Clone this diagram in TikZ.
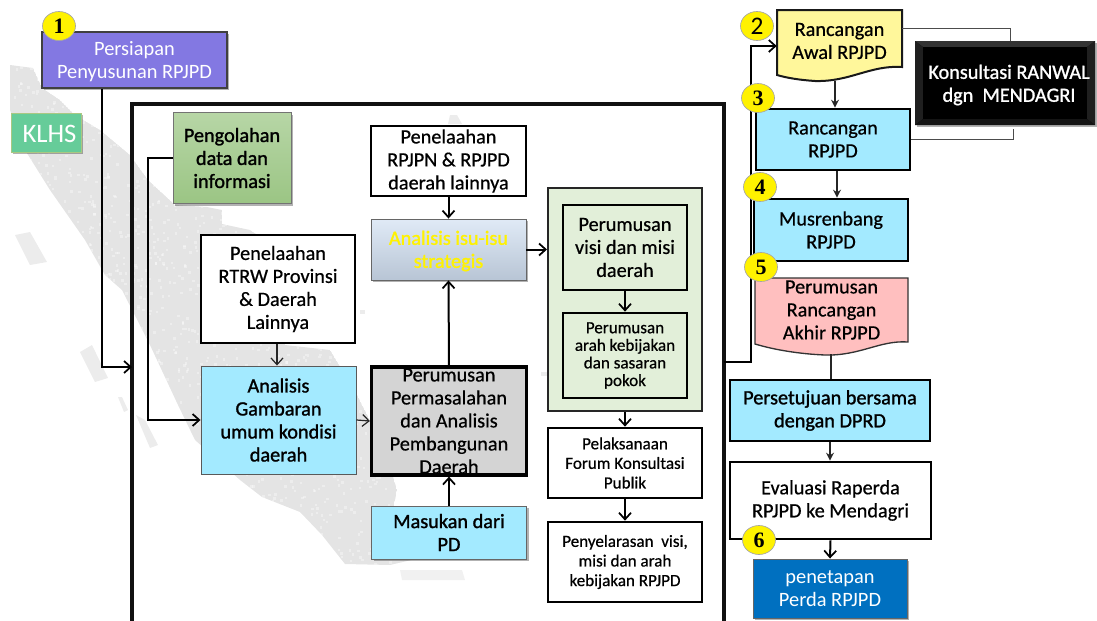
\documentclass[tikz,border=0pt]{standalone}
\usepackage{fontspec}
\setmainfont{Carlito}
\newfontfamily\medf[FakeBold=0.6]{Carlito}
\newfontfamily\hvyf[FakeBold=1.3]{Carlito}
\newfontfamily\serifbadge{Liberation Serif}
\usetikzlibrary{arrows.meta,shadows,calc,shapes.geometric}
\definecolor{cyanbox}{HTML}{A3EAFF}
\definecolor{mapgray}{HTML}{E4E4E4}
\definecolor{frameline}{HTML}{111111}
\def\u{0.75pt}
\newcommand{\fs}[2]{\fontsize{#1}{#2}\selectfont}
\tikzset{
  base/.style={align=center,inner sep=0pt,text=black,font=\medf\fs{15.2}{17.25}},
  heavy/.style={font=\hvyf\fs{15.2}{17.25}},
  bx/.style n args={2}{base,minimum width=#1*\u,minimum height=#2*\u},
  shad/.style={drop shadow={shadow xshift=1.5pt,shadow yshift=-1.5pt,fill=black,opacity=0.3}},
  badge/.style={ellipse,draw=black!35,line width=0.5pt,fill=yellow,minimum width=33*\u,minimum height=29*\u,inner sep=0pt,font=\fs{16.5}{16.5}},
  lnk/.style={line width=1.5pt,draw=black,-{Straight Barb[length=5pt,width=9pt,line width=1.3pt]}},
  lnkthin/.style={line width=0.9pt,draw=black!85,-{Straight Barb[length=5pt,width=9pt,line width=0.9pt]}},
  lnktri/.style={line width=1pt,draw=black!85,-{Stealth[length=6pt,width=6pt]}},
  plain/.style={line width=0.7pt,draw=black!70},
  plainb/.style={line width=1.1pt,draw=black!85},
}
\def\mappath{(10,65) -- (33,68) -- (42,88) -- (60,100) -- (75,115) -- (100,130) -- (130,155) -- (148,180) -- (175,205) -- (207,207) -- (222,210) -- (222,224) -- (250,230) -- (265,240) -- (285,345) -- (330,350) -- (357,395) -- (385,450) -- (397,490) -- (392,515) -- (400,545) -- (420,558) -- (390,565) -- (345,564) -- (322,535) -- (300,512) -- (262,497) -- (240,480) -- (195,440) -- (178,405) -- (150,345) -- (122,290) -- (105,275) -- (85,240) -- (50,190) -- (25,150) -- (10,110) -- cycle}
\begin{document}
\begin{tikzpicture}[x=0.75pt,y=-0.75pt]
\useasboundingbox (0,0) rectangle (1097,621);
% map
\begin{scope}
\clip \mappath;
\fill[mapgray] \mappath;
\pgfmathsetseed{42}
\foreach \i in {1,...,2600}{
  \pgfmathsetmacro{\mx}{10+410*rnd}
  \pgfmathsetmacro{\my}{65+500*rnd}
  \fill[white,opacity=0.35] (\mx,\my) rectangle ++(2.5,2.5);
}
\end{scope}
\fill[mapgray!70] (80,352) -- (92,345) -- (108,378) -- (95,382) -- cycle;
\fill[mapgray!70] (136,415) -- (145,420) -- (158,445) -- (150,448) -- cycle;
\fill[mapgray!70] (118,397) -- (122,397) -- (128,410) -- (124,412) -- cycle;
\fill[mapgray!70] (15,235) -- (30,232) -- (47,262) -- (30,265) -- cycle;
\fill[mapgray!70] (450,115) -- (457,115) -- (462,124) -- (448,124) -- cycle;
\fill[mapgray!70] (360,310) -- (365,310) -- (365,314) -- (360,314) -- cycle;
\fill[mapgray!70] (541,372) -- (547,372) -- (547,376) -- (541,376) -- cycle;
\fill[mapgray!50] (400,570) -- (462,570) -- (465,580) -- (402,580) -- cycle;
% outer frame
\draw[line width=3pt,frameline] (132,621) -- (132,103.5) -- (724,103.5) -- (724,621);
\coordinate (frameL) at (132,367);
\coordinate (frameR) at (724,362);
% left column
\node[bx={185}{56},shad,draw=black!75,line width=0.8pt,fill={rgb,255:red,131;green,120;blue,226}] (persiapan) at (134.5,60) {};
\node[base,text=white,font=\fs{15.3}{17.25}] (persiapanlabel) at (134.5,62) {Persiapan\\Penyusunan RPJPD};
\node[bx={70}{39},shad,draw={rgb,255:red,170;green,200;blue,130},line width=0.6pt,fill={rgb,255:red,102;green,204;blue,153}] (klhs) at (46,132.5) {};
\node[base,text=white,font=\fs{20}{20}] (klhslabel) at (49.5,133.5) {KLHS};
\node[bx={118}{91},shad,draw=black!55,line width=0.7pt,top color={rgb,255:red,183;green,214;blue,166},bottom color={rgb,255:red,155;green,197;blue,132},heavy] (olah) at (232,158) {Pengolahan\\data dan\\informasi};
\node[bx={154}{108},draw=black,line width=1.1pt,fill=white] (rtrw) at (278,289) {Penelaahan\\RTRW Provinsi\\\&~Daerah\\Lainnya};
\node[bx={155}{108},draw=black!65,line width=0.7pt,fill=cyanbox,heavy] (gambaran) at (278.5,420) {Analisis\\Gambaran\\umum kondisi\\daerah};
% middle column
\node[bx={155}{70},draw=black,line width=2pt,fill=white] (rpjpn) at (448.5,161) {Penelaahan\\RPJPN \& RPJPD\\daerah lainnya};
\node[bx={155}{61},shad,draw=black!60,line width=0.7pt,top color={rgb,255:red,224;green,234;blue,246},bottom color={rgb,255:red,184;green,197;blue,213}] (isu) at (448.5,249.5) {};
\node[base,text=yellow,heavy] (isulabel) at (448.5,251) {Analisis isu-isu\\strategis};
\node[bx={155}{108},draw=black,line width=2.4pt,fill={rgb,255:red,212;green,212;blue,212}] (masalah) at (449,421) {Perumusan\\Permasalahan\\dan Analisis\\Pembangunan\\Daerah};
\node[bx={155}{53},shad,draw=black!60,line width=0.7pt,fill=cyanbox,heavy] (masukan) at (449,532.5) {Masukan dari\\PD};
% right inner column
\node[bx={154}{223},draw=black!85,line width=1.5pt,fill={rgb,255:red,226;green,239;blue,217}] (hijau) at (625,299.5) {};
\node[bx={124}{85},draw=black,line width=2pt,fill={rgb,255:red,226;green,239;blue,217}] (visi) at (625,247.5) {Perumusan\\visi dan misi\\daerah};
\node[bx={124}{85},draw=black,line width=2pt,fill={rgb,255:red,226;green,239;blue,217},font=\medf\fs{12.8}{13.2}] (arah) at (625,355.5) {Perumusan\\arah kebijakan\\dan sasaran\\pokok};
\node[bx={154}{70},draw=black,line width=2pt,fill=white,font=\medf\fs{12.8}{14.7}] (forum) at (625,463) {Pelaksanaan\\Forum Konsultasi\\Publik};
\node[bx={154}{80},draw=black,line width=2pt,fill=white,font=\medf\fs{12.8}{14.7}] (selaras) at (625,562) {Penyelarasan~~visi,\\misi dan arah\\kebijakan RPJPD};
% right column
\node[bx={125}{70},] (awalanchor) at (839.5,45) {};
\draw[line width=1.5pt,draw=black!90,fill={rgb,255:red,255;green,247;blue,155}] (777,10) -- (902,10) -- (902,67) .. controls (870,65) and (850,82) .. (815,81) .. controls (800,80) and (787,78) .. (777,75) -- cycle;
\node[base] (awal) at (839.5,41) {Rancangan\\Awal RPJPD};
\node[bx={180}{84},fill=black,shad,draw=none] (mendagri) at (1005,83) {};
\fill[black!80] (915,41) -- (1095,41) -- (1087,47) -- (923,47) -- cycle;
\fill[black!88] (915,41) -- (923,47) -- (923,119) -- (915,125) -- cycle;
\fill[black!88] (1095,41) -- (1087,47) -- (1087,119) -- (1095,125) -- cycle;
\fill[black!92] (915,125) -- (1095,125) -- (1087,119) -- (923,119) -- cycle;
\fill[black] (923,47) rectangle (1087,119);
\node[base,text=white,heavy] (mendagrilabel) at (1009,85) {Konsultasi RANWAL\\dgn~~MENDAGRI};
\node[bx={154}{61},draw=black,line width=2pt,fill=cyanbox] (rancangan) at (833,139.5) {Rancangan\\RPJPD};
\node[bx={154}{62},draw=black,line width=2pt,fill=cyanbox] (musren) at (831,230) {Musrenbang\\RPJPD};
\node[bx={153}{70}] (akhiranchor) at (831.5,313) {};
\draw[line width=1pt,draw=black!80,fill={rgb,255:red,255;green,191;blue,191}] (755,278) -- (908,278) -- (908,342) .. controls (880,340) and (860,356) .. (825,355) .. controls (800,354) and (775,350) .. (755,344) -- cycle;
\node[base] (akhir) at (831.5,310) {Perumusan\\Rancangan\\Akhir RPJPD};
\node[bx={200}{61},draw=black,line width=2pt,fill=cyanbox,heavy] (setuju) at (830,410.5) {Persetujuan bersama\\dengan DPRD};
\node[bx={201}{77},draw=black,line width=2pt,fill=white] (evaluasi) at (830.5,500.5) {Evaluasi Raperda\\RPJPD ke Mendagri};
\node[bx={154}{59},shad,draw=black!60,line width=0.7pt,fill={rgb,255:red,0;green,112;blue,192},text=white,font=\fs{15.3}{17.25}] (perda) at (830,588.5) {penetapan\\Perda RPJPD};
% connectors
\draw[lnk] (persiapan.south -| 102,0) |- (frameL);
\draw[lnk] (olah.west) -| (148,300) |- (gambaran.west);
\draw[lnkthin] (rtrw.south -| 277,0) -- (gambaran.north -| 277,0);
\draw[lnkthin] (gambaran.east) -- (masalah.west);
\draw[lnk] (masalah.north) -- (isu.south);
\draw[lnk] (masukan.north) -- (masalah.south);
\draw[lnk] (rpjpn.south) -- (isu.north);
\draw[lnk] (isu.east) -- (isu.east -| hijau.west);
\draw[lnk] (visi.south) -- (arah.north);
\draw[lnk] (hijau.south) -- (forum.north);
\draw[lnk] (forum.south) -- (selaras.north);
\draw[lnk] (frameR) -| (751,200) |- (awalanchor.west |- 0,46);
\draw[lnktri] (835,81) -- (rancangan.north -| 835,0);
\draw[lnktri] (rancangan.south -| 837,0) -- (musren.north -| 837,0);
\draw[plainb] (831,354) -- (setuju.north -| 831,0);
\draw[lnktri] (setuju.south) -- (evaluasi.north -| setuju.south);
\draw[lnk] (evaluasi.south) -- (perda.north);
\draw[plain] (awalanchor.east |- 0,28) -| (mendagri.north -| 1010,0);
\draw[plain] (rancangan.east) -| (1013,129);
% badges
\node[badge] (b1) at (59,26) {\serifbadge\bfseries 1};
\node[badge] (b2) at (757,26) {\fontsize{19}{19}\selectfont 2};
\node[badge] (b3) at (758,98) {\serifbadge\bfseries 3};
\node[badge] (b4) at (760,187) {\serifbadge\bfseries 4};
\node[badge] (b5) at (761,267) {\serifbadge\bfseries 5};
\node[badge] (b6) at (759,540) {\serifbadge\bfseries 6};
\end{tikzpicture}
\end{document}
